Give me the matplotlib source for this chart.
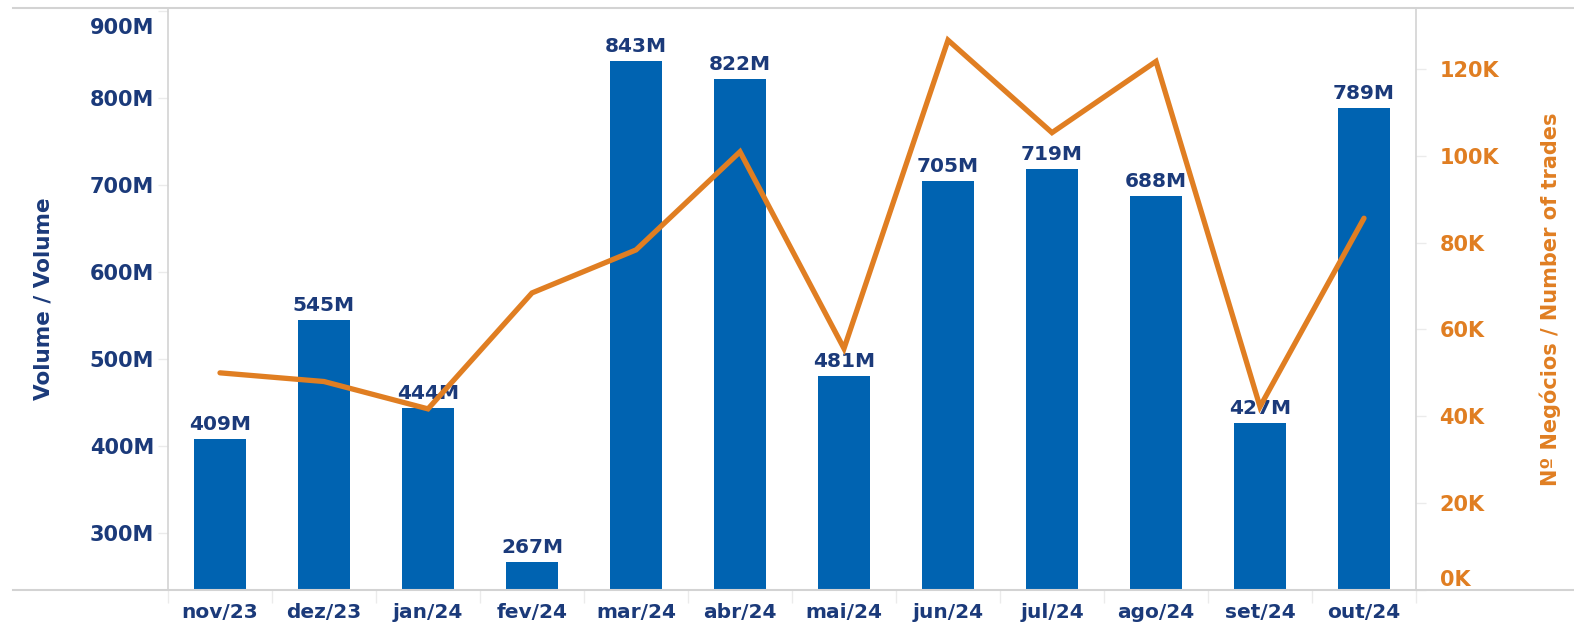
import matplotlib
matplotlib.use("Agg")
import matplotlib.pyplot as plt
import matplotlib.transforms as mtransforms
from matplotlib.lines import Line2D
from matplotlib.ticker import FixedLocator, FuncFormatter
import numpy as np

months = ["nov/23", "dez/23", "jan/24", "fev/24", "mar/24", "abr/24",
          "mai/24", "jun/24", "jul/24", "ago/24", "set/24", "out/24"]
volume_m = [409, 545, 444, 267, 843, 822, 481, 705, 719, 688, 427, 789]
trades_k = [50.0, 48.0, 41.7, 68.4, 78.3, 100.9, 55.6, 126.6, 105.3, 121.7, 42.2, 85.6]

left_ticks = [300, 400, 500, 600, 700, 800, 900]
right_ticks = [0, 20, 40, 60, 80, 100, 120]

BLUE = "#0063B1"
NAVY = "#1B3A7A"
ORANGE = "#E07E22"
GRID = "#d3d3d3"
TICK = "#ebebeb"

plt.rcParams["font.family"] = "DejaVu Sans"
plt.rcParams["font.weight"] = "bold"

W, H = 1574, 631
fig = plt.figure(figsize=(W / 100, H / 100), dpi=100)
x0, x1, y0, y1 = 168, 1416, 8, 590
ax = fig.add_axes([x0 / W, 1 - y1 / H, (x1 - x0) / W, (y1 - y0) / H])
ax2 = ax.twinx()

x = np.arange(len(months))
ax.bar(x, volume_m, width=0.5, color=BLUE, zorder=2)
for xi, v in zip(x, volume_m):
    ax.annotate(f"{v}M", (xi, v), xytext=(0, 3.5), textcoords="offset points",
                ha="center", va="bottom", color=NAVY, fontsize=14.5, fontweight="bold")
ax.set_xlim(-0.5, len(months) - 0.5)
ax.set_ylim(235, 904)

ax2.plot(x, trades_k, color=ORANGE, lw=3.8, solid_capstyle="round", solid_joinstyle="miter")
ax2.set_ylim(0, 134)

# frame: only left / right spines, light grey
for a in (ax, ax2):
    for s in a.spines.values():
        s.set_visible(False)
ax.spines["left"].set_visible(True)
ax.spines["left"].set_color(GRID)
ax.spines["left"].set_linewidth(1.2)
ax2.spines["right"].set_visible(True)
ax2.spines["right"].set_color(GRID)
ax2.spines["right"].set_linewidth(1.2)

ax.yaxis.set_major_locator(FixedLocator(left_ticks))
ax.yaxis.set_major_formatter(FuncFormatter(lambda v, p: f"{v:.0f}M"))
ax.tick_params(axis="y", length=7, width=1, color=TICK, pad=3,
               labelcolor=NAVY, labelsize=15)
ax2.yaxis.set_major_locator(FixedLocator(right_ticks))
ax2.yaxis.set_major_formatter(FuncFormatter(lambda v, p: f"{v:.0f}K"))
ax2.tick_params(axis="y", length=7, width=1, color=TICK, pad=10,
                labelcolor=ORANGE, labelsize=15)

ax.set_xticks(x)
ax.set_xticklabels(months)
ax.set_xticks(np.arange(len(months) + 1) - 0.5, minor=True)
ax.tick_params(axis="x", which="major", length=0, pad=9, labelcolor=NAVY, labelsize=14.5)
ax.tick_params(axis="x", which="minor", length=9, width=1, color=TICK)

ax.set_ylabel("Volume / Volume", color=NAVY, fontsize=15.5, fontweight="bold")
ax.yaxis.set_label_coords(-0.092, 0.5)
ax2.set_ylabel("Nº Negócios / Number of trades", color=ORANGE, fontsize=15,
               fontweight="bold")
ax2.yaxis.set_label_coords(1.099, 0.5)

# keep end labels inside the frame like the original
top_lbl = ax.yaxis.get_major_ticks()[-1].label1
top_lbl.set_va("top")
top_lbl.set_transform(mtransforms.offset_copy(top_lbl.get_transform(), fig=fig, y=-7, units="dots"))
ax2.yaxis.get_major_ticks()[0].label2.set_va("bottom")

# top and bottom frame lines spanning the full width
for yy in (y0, y1):
    fig.add_artist(Line2D([13 / W, 1.0], [1 - yy / H, 1 - yy / H], color=GRID, lw=1.5))

fig.savefig("out.png", dpi=100)
